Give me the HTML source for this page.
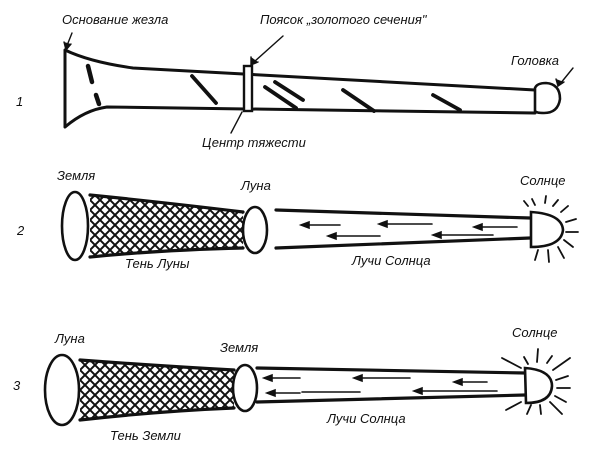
<!DOCTYPE html>
<html><head><meta charset="utf-8"><style>
html,body{margin:0;padding:0;background:#fff}
svg{display:block}
text{font-family:"Liberation Sans","DejaVu Sans",sans-serif;font-style:italic;font-size:13px;fill:#111}
</style></head><body>
<svg width="616" height="472" viewBox="0 0 616 472" xmlns="http://www.w3.org/2000/svg">
<defs>
<pattern id="hatch" width="10" height="10" patternUnits="userSpaceOnUse">
<path d="M0,0 L10,10 M10,0 L0,10" stroke="#111" stroke-width="2"/>
</pattern>
</defs>
<g stroke="#111" fill="none" stroke-width="2.6" stroke-linecap="round">
<!-- Diagram 1 -->
<path d="M65,50 L65,127 M65,50 Q90,62 133,68 L535,90 M65,127 Q85,110 107,107 L535,113" stroke-width="3"/>
<rect x="244" y="66" width="8" height="45" fill="#fff" stroke-width="2.4"/>
<path d="M535,88 Q537,83 546,83 Q560,84 560,99 Q558,113 544,113 Q536,113 535,111 Z" fill="#fff"/>
<path d="M88,66 L92,82 M96,95 L99,104" stroke-width="4.5"/>
<path d="M192,76 L216,103 M265,87 L296,108 M275,82 L303,100 M343,90 L374,111 M433,95 L460,110" stroke-width="3.8"/>
<g stroke-width="1.4">
<path d="M72,33 L66,48"/><path d="M64,42 L66,50 L71,44" fill="#111"/>
<path d="M283,36 L254,62"/><path d="M251,57 L251,65 L258,62" fill="#111"/>
<path d="M242,112 L231,133"/>
<path d="M573,68 L560,84"/><path d="M556,79 L558,86 L564,82" fill="#111"/>
</g>
<!-- Diagram 2 -->
<path d="M90,195 Q160,200 243,212 L243,248 Q160,252 90,257 Z" fill="url(#hatch)" stroke="none"/>
<path d="M90,195 Q160,202 243,212 M90,257 Q160,250 243,248" stroke-width="3.2"/>
<ellipse cx="75" cy="226" rx="13" ry="34" fill="#fff"/>
<ellipse cx="255" cy="230" rx="12" ry="23" fill="#fff"/>
<path d="M276,210 L530,218 M276,248 L530,238" stroke-width="3.2"/>
<path d="M531,212 Q562,214 563,230 Q561,247 531,247 Z" fill="#fff"/>
<g stroke-width="1.8">
<path d="M535,205 L532,199 M545,203 L546,196 M553,206 L558,200 M561,212 L568,206 M566,222 L576,219 M566,232 L578,232 M564,240 L573,247 M558,247 L564,258 M548,250 L549,262 M538,250 L535,260 M528,206 L524,201"/>
</g>
<g stroke-width="1.6">
<path d="M340,225 L302,225 M432,224 L380,224 M517,227 L475,227 M380,236 L329,236 M493,235 L434,235"/>
<path d="M301,225 l8,-3 l0,6z M379,224 l8,-3 l0,6z M474,227 l8,-3 l0,6z M328,236 l8,-3 l0,6z M433,235 l8,-3 l0,6z" fill="#111"/>
</g>
<!-- Diagram 3 -->
<path d="M80,360 Q160,364 234,370 L234,408 Q160,413 80,420 Z" fill="url(#hatch)" stroke="none"/>
<path d="M80,360 Q160,366 234,370 M80,420 Q160,411 234,408" stroke-width="3.2"/>
<ellipse cx="62" cy="390" rx="17" ry="35" fill="#fff"/>
<ellipse cx="245" cy="388" rx="12" ry="23" fill="#fff"/>
<path d="M257,368 L525,373 M257,402 L525,395" stroke-width="3.2"/>
<path d="M525,368 Q552,370 552,386 Q551,403 526,403 Z" fill="#fff"/>
<g stroke-width="1.8">
<path d="M521,368 L502,358 M528,364 L524,357 M537,362 L538,349 M547,363 L552,356 M553,370 L570,358 M556,380 L568,376 M557,388 L570,388 M555,396 L566,402 M550,402 L562,414 M540,405 L541,414 M531,405 L527,414 M521,402 L506,410"/>
</g>
<g stroke-width="1.6">
<path d="M300,378 L265,378 M410,378 L355,378 M487,382 L455,382 M360,392 L302,392 M300,393 L268,393 M497,391 L415,391"/>
<path d="M264,378 l8,-3 l0,6z M354,378 l8,-3 l0,6z M454,382 l8,-3 l0,6z M267,393 l8,-3 l0,6z M414,391 l8,-3 l0,6z" fill="#111"/>
</g>
</g>
<g>
<text x="62" y="24">Основание жезла</text>
<text x="260" y="24">Поясок „золотого сечения"</text>
<text x="511" y="65">Головка</text>
<text x="202" y="147">Центр тяжести</text>
<text x="16" y="106">1</text>
<text x="57" y="180">Земля</text>
<text x="241" y="190">Луна</text>
<text x="520" y="185">Солнце</text>
<text x="17" y="235">2</text>
<text x="125" y="268">Тень Луны</text>
<text x="352" y="265">Лучи Солнца</text>
<text x="55" y="343">Луна</text>
<text x="220" y="352">Земля</text>
<text x="512" y="337">Солнце</text>
<text x="13" y="390">3</text>
<text x="327" y="423">Лучи Солнца</text>
<text x="110" y="440">Тень Земли</text>
</g>
</svg>
</body></html>
